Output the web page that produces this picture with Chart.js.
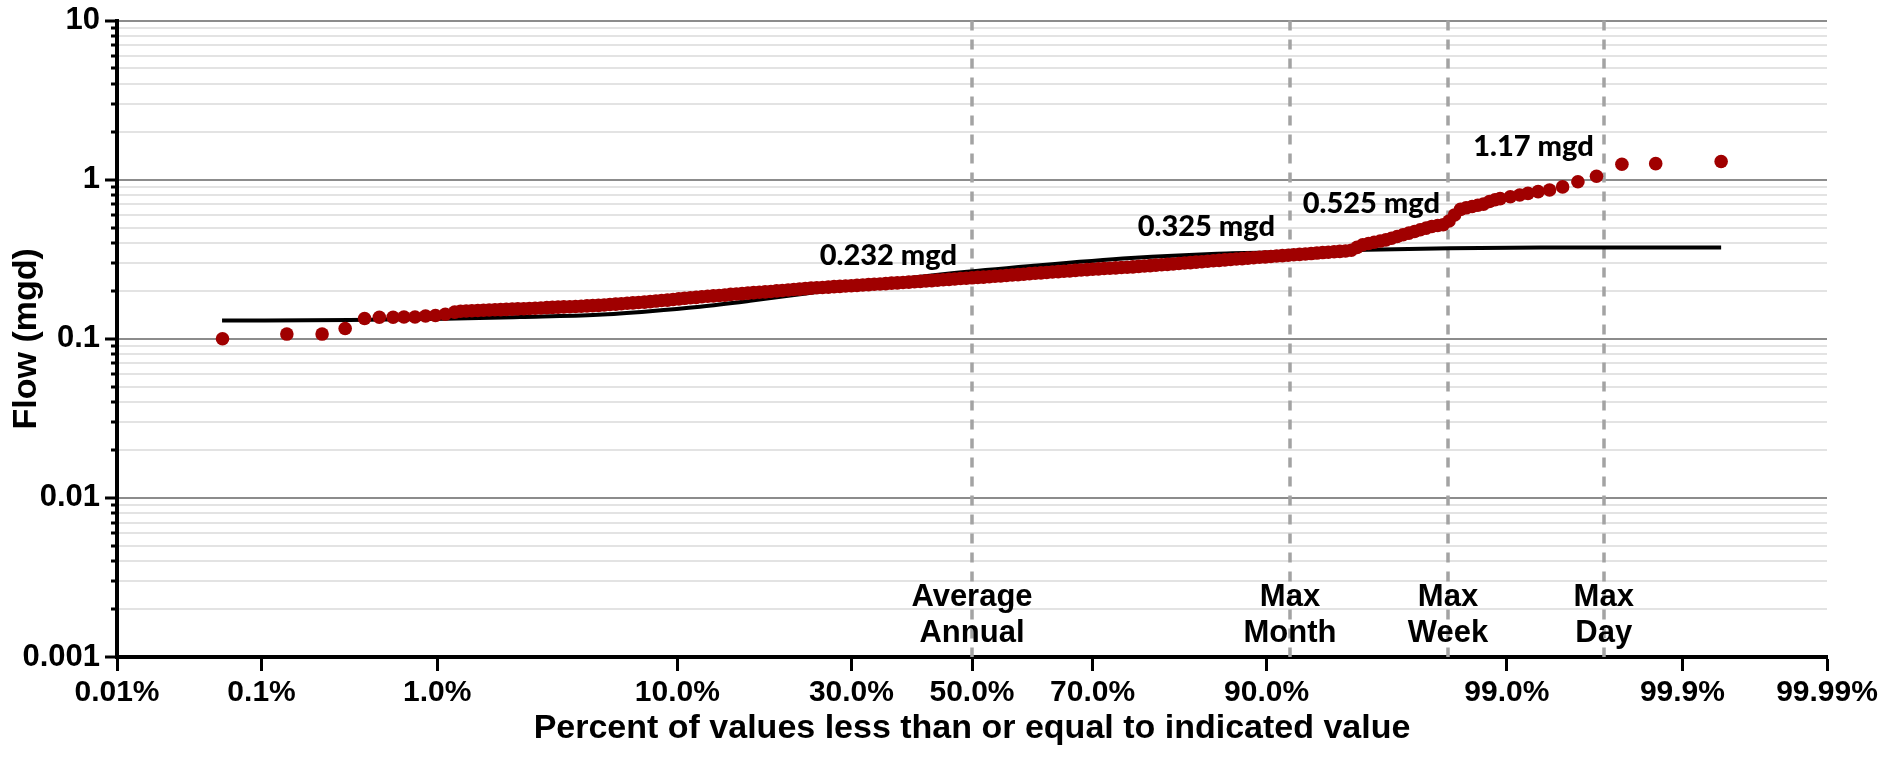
<!DOCTYPE html>
<html>
<head>
<meta charset="utf-8">
<script src="https://cdn.jsdelivr.net/npm/chart.js@4.4.1/dist/chart.umd.min.js"></script>
<style>
  html, body { margin: 0; padding: 0; background: #ffffff; }
  canvas { display: block; }
</style>
</head>
<body>
<canvas id="grafico" width="1883" height="764"></canvas>
<script>
// Ejes: percentiles de la escala de probabilidad y décadas del eje log
const xTickPercents = [0.01, 0.1, 1, 10, 30, 50, 70, 90, 99, 99.9, 99.99];
const xTickLabels = ['0.01%', '0.1%', '1.0%', '10.0%', '30.0%', '50.0%', '70.0%', '90.0%', '99.0%', '99.9%', '99.99%'];
const yTickValues = [0.001, 0.01, 0.1, 1, 10];
const yTickLabels = ['0.001', '0.01', '0.1', '1', '10'];

// Caudales observados (porcentaje acumulado, mgd)
const flowPercent = [
  0.0557, 0.144, 0.235, 0.320, 0.412, 0.497, 0.590, 0.674, 0.770, 0.873, 0.980, 1.098,
  1.222, 1.305, 1.390, 1.48, 1.578, 1.68, 1.786, 1.90, 2.018, 2.14, 2.275, 2.41, 2.56, 2.71, 2.87,
  3.04, 3.22, 3.40, 3.59, 3.79, 4.01, 4.23, 4.46, 4.70, 4.95, 5.21, 5.48, 5.76, 6.06, 6.36, 6.68,
  7.01, 7.35, 7.71, 8.08, 8.46, 8.85, 9.26, 9.68, 10.11, 10.56, 11.03, 11.51, 12.0, 12.51, 13.03,
  13.57, 14.12, 14.69, 15.27, 15.87, 16.48, 17.11, 17.75, 18.41, 19.08, 19.77, 20.47, 21.19, 21.92,
  22.66, 23.42, 24.20, 24.98, 25.78, 26.60, 27.43, 28.27, 29.12, 29.98, 30.85, 31.74, 32.64, 33.54,
  34.46, 35.38, 36.32, 37.26, 38.21, 39.17, 40.13, 41.10, 42.07, 43.05, 44.04, 45.03, 46.02, 47.01,
  48.01, 49.00, 50.00,
  51.00, 51.99, 52.99, 53.98, 54.97, 55.96, 56.95, 57.93, 58.90, 59.87, 60.83, 61.79, 62.74, 63.68,
  64.62, 65.54, 66.46, 67.36, 68.26, 69.15, 70.02, 70.88, 71.73, 72.57, 73.40, 74.22, 75.02, 75.80,
  76.58, 77.34, 78.08, 78.81, 79.53, 80.23, 80.92, 81.59, 82.25, 82.89, 83.52, 84.13, 84.73, 85.31,
  85.88, 86.43, 86.97, 87.49, 88.00, 88.49, 88.97, 89.44, 89.89, 90.32, 90.74, 91.15, 91.54, 91.92,
  92.29, 92.65, 92.99, 93.32, 93.64, 93.94, 94.24, 94.52, 94.79, 95.05, 95.30, 95.54, 95.77, 95.99,
  96.21, 96.41, 96.60, 96.78, 96.96, 97.13, 97.29, 97.44, 97.59, 97.725, 97.86, 97.98, 98.10, 98.21,
  98.32, 98.42, 98.52, 98.61, 98.695, 98.78, 98.855,
  98.92, 99.04, 99.14, 99.22, 99.31, 99.40, 99.49, 99.58, 99.67, 99.765, 99.853, 99.944
];
const flowMgd = [
  0.100, 0.107, 0.107, 0.116, 0.134, 0.1365, 0.1365, 0.137, 0.137, 0.139, 0.140, 0.1425,
  0.147, 0.149, 0.1494, 0.150, 0.1505, 0.151, 0.1515, 0.152, 0.1525, 0.153, 0.1535, 0.154, 0.1545, 0.155, 0.1555,
  0.156, 0.157, 0.1575, 0.158, 0.1585, 0.159, 0.1595, 0.160, 0.161, 0.1615, 0.162, 0.163, 0.164, 0.165, 0.166, 0.167,
  0.168, 0.169, 0.170, 0.171, 0.1725, 0.174, 0.175, 0.1765, 0.178, 0.1795, 0.181, 0.182, 0.1835, 0.185, 0.186,
  0.187, 0.188, 0.190, 0.191, 0.192, 0.1935, 0.195, 0.196, 0.197, 0.198, 0.200, 0.201, 0.2025, 0.204,
  0.205, 0.2065, 0.208, 0.209, 0.210, 0.211, 0.2125, 0.2135, 0.2145, 0.2155, 0.2165, 0.2175, 0.219, 0.220,
  0.221, 0.222, 0.2235, 0.2245, 0.2257, 0.227, 0.228, 0.2295, 0.231, 0.232, 0.2335, 0.235, 0.236, 0.2375,
  0.239, 0.240, 0.2415,
  0.243, 0.244, 0.2455, 0.247, 0.248, 0.250, 0.2515, 0.253, 0.2545, 0.2565, 0.258, 0.2595, 0.261, 0.2625,
  0.264, 0.2655, 0.267, 0.269, 0.2705, 0.272, 0.2735, 0.275, 0.2765, 0.2775, 0.279, 0.2805, 0.2815, 0.283,
  0.285, 0.2865, 0.288, 0.290, 0.292, 0.2935, 0.295, 0.297, 0.299, 0.301, 0.303, 0.305, 0.307, 0.309,
  0.311, 0.313, 0.315, 0.317, 0.319, 0.321, 0.323, 0.325, 0.327, 0.329, 0.331, 0.333, 0.335, 0.337,
  0.339, 0.341, 0.343, 0.3455, 0.348, 0.350, 0.352, 0.354, 0.356, 0.360, 0.375, 0.390, 0.397, 0.404,
  0.411, 0.418, 0.428, 0.439, 0.450, 0.461, 0.472, 0.484, 0.496, 0.508, 0.515, 0.521, 0.550, 0.600,
  0.650, 0.665, 0.678, 0.690, 0.702, 0.728, 0.748,
  0.76, 0.78, 0.80, 0.82, 0.84, 0.86, 0.90, 0.97, 1.05, 1.25, 1.26, 1.30
];

// Curva ajustada (porcentaje, mgd)
const fitPercent = [0.0553, 0.341, 1.095, 2.465, 5.19, 8.06, 11.84, 16.70, 22.72, 29.77, 37.71, 46.53, 60.14, 75.55, 85.68, 92.32, 95.71, 98.12, 99.33, 99.944];
const fitMgd = [0.130, 0.1312, 0.1335, 0.137, 0.1415, 0.149, 0.159, 0.173, 0.190, 0.212, 0.236, 0.258, 0.287, 0.322, 0.3425, 0.352, 0.362, 0.370, 0.374, 0.375];

// Condiciones de diseño
const markerPercents = [50, 91.67, 98.08, 99.7];
const markerNames = [['Average', 'Annual'], ['Max', 'Month'], ['Max', 'Week'], ['Max', 'Day']];
const markerValues = ['0.232 mgd', '0.325 mgd', '0.525 mgd', '1.17 mgd'];

const fuenteEjes = '"Liberation Sans", Arial, sans-serif';
const fuenteValores = 'Lato, "Open Sans", sans-serif';

// Inversa de la normal estándar (Acklam)
function probit(p) {
    const a = [-3.969683028665376e+01, 2.209460984245205e+02, -2.759285104469687e+02, 1.383577518672690e+02, -3.066479806614716e+01, 2.506628277459239e+00];
    const b = [-5.447609879822406e+01, 1.615858368580409e+02, -1.556989798598866e+02, 6.680131188771972e+01, -1.328068155288572e+01];
    const c = [-7.784894002430293e-03, -3.223964580411365e-01, -2.400758277161838e+00, -2.549732539343734e+00, 4.374664141464968e+00, 2.938163982698783e+00];
    const d = [7.784695709041462e-03, 3.224671290700398e-01, 2.445134137142996e+00, 3.754408661907416e+00];
    const pLow = 0.02425;
    if (p < pLow) {
        const q = Math.sqrt(-2 * Math.log(p));
        return (((((c[0] * q + c[1]) * q + c[2]) * q + c[3]) * q + c[4]) * q + c[5]) / ((((d[0] * q + d[1]) * q + d[2]) * q + d[3]) * q + 1);
    }
    if (p <= 1 - pLow) {
        const q = p - 0.5, r = q * q;
        return (((((a[0] * r + a[1]) * r + a[2]) * r + a[3]) * r + a[4]) * r + a[5]) * q / (((((b[0] * r + b[1]) * r + b[2]) * r + b[3]) * r + b[4]) * r + 1);
    }
    const q = Math.sqrt(-2 * Math.log(1 - p));
    return -(((((c[0] * q + c[1]) * q + c[2]) * q + c[3]) * q + c[4]) * q + c[5]) / ((((d[0] * q + d[1]) * q + d[2]) * q + d[3]) * q + 1);
}

function esDecada(v) {
    const e = Math.log10(v);
    return Math.abs(e - Math.round(e)) < 1e-6;
}

function aPuntos(porcentajes, valores) {
    return porcentajes.map((p, i) => ({ x: probit(p / 100), y: valores[i] }));
}

// Líneas verticales punteadas y rótulos
const marcadores = {
    id: 'marcadores',
    beforeDatasetsDraw(chart, args, opts) {
        const { ctx, chartArea, scales: { x } } = chart;
        ctx.save();
        ctx.strokeStyle = opts.color;
        ctx.lineWidth = opts.width;
        ctx.setLineDash(opts.dash);
        markerPercents.forEach(p => {
            const px = Math.round(x.getPixelForValue(probit(p / 100)));
            ctx.beginPath();
            ctx.moveTo(px, chartArea.top);
            ctx.lineTo(px, chartArea.bottom);
            ctx.stroke();
        });
        ctx.setLineDash([]);
        ctx.fillStyle = '#000';
        ctx.font = 'bold 31px ' + fuenteEjes;
        ctx.textAlign = 'center';
        ctx.textBaseline = 'middle';
        markerPercents.forEach((p, i) => {
            const px = x.getPixelForValue(probit(p / 100));
            ctx.fillText(markerNames[i][0], px, chartArea.bottom - opts.nameOffsets[0]);
            ctx.fillText(markerNames[i][1], px, chartArea.bottom - opts.nameOffsets[1]);
        });
        ctx.restore();
    },
    afterDatasetsDraw(chart, args, opts) {
        const { ctx, scales: { x, y } } = chart;
        ctx.save();
        ctx.fillStyle = '#000';
        ctx.font = '900 29px ' + fuenteValores;
        ctx.textAlign = 'right';
        ctx.textBaseline = 'alphabetic';
        markerPercents.forEach((p, i) => {
            const px = x.getPixelForValue(probit(p / 100)) + opts.valueDx[i];
            const py = y.getPixelForValue(opts.valueBase[i]);
            ctx.fillText(markerValues[i], px, py);
        });
        ctx.restore();
    }
};

const ctx = document.getElementById('grafico').getContext('2d');
new Chart(ctx, {
    type: 'scatter',
    data: {
        datasets: [
            {
                type: 'scatter',
                label: 'Flow',
                data: aPuntos(flowPercent, flowMgd),
                pointRadius: 6.8,
                backgroundColor: '#a00000',
                borderColor: '#a00000',
                borderWidth: 0,
                order: 0
            },
            {
                type: 'line',
                label: 'Fit',
                data: aPuntos(fitPercent, fitMgd),
                borderColor: '#000000',
                borderWidth: 4,
                pointRadius: 0,
                fill: false,
                cubicInterpolationMode: 'monotone',
                order: 1
            }
        ]
    },
    options: {
        responsive: false,
        animation: false,
        events: [],
        layout: { padding: { left: 0, right: 56, top: 16, bottom: 0 } },
        plugins: {
            legend: { display: false },
            tooltip: { enabled: false },
            marcadores: {
                color: '#a3a3a3',
                width: 3.5,
                dash: [10, 9],
                nameOffsets: [60, 24],
                valueDx: [-15, -15, -8, -10],
                valueBase: [0.289, 0.4446, 0.618, 1.401]
            }
        },
        scales: {
            x: {
                type: 'linear',
                min: probit(xTickPercents[0] / 100),
                max: probit(xTickPercents[xTickPercents.length - 1] / 100),
                afterBuildTicks: scale => {
                    scale.ticks = xTickPercents.map(p => ({ value: probit(p / 100) }));
                },
                afterFit: scale => { scale.height = 107; },
                ticks: {
                    autoSkip: false,
                    maxRotation: 0,
                    padding: 4,
                    color: '#000',
                    font: { family: fuenteEjes, size: 30, weight: 'bold', lineHeight: 1.2 },
                    callback: (value, index) => xTickLabels[index]
                },
                grid: { drawOnChartArea: false, drawTicks: true, tickLength: 14, tickWidth: 3, tickColor: '#000' },
                border: { display: true, color: '#000', width: 4 },
                title: {
                    display: true,
                    text: 'Percent of values less than or equal to indicated value',
                    color: '#000',
                    font: { family: fuenteEjes, size: 34, weight: 'bold', lineHeight: 1.2 },
                    padding: { top: 0, bottom: 14.6 }
                }
            },
            y: {
                type: 'logarithmic',
                min: 0.001,
                max: 10,
                afterBuildTicks: scale => {
                    const marcas = [];
                    yTickValues.forEach(d => {
                        for (let m = 1; m < 10; m++) {
                            if (d * m <= 10 + 1e-9) marcas.push({ value: d * m });
                        }
                    });
                    scale.ticks = marcas;
                },
                afterFit: scale => { scale.width = 117; },
                ticks: {
                    autoSkip: false,
                    padding: 5,
                    color: '#000',
                    font: { family: fuenteEjes, size: 31, weight: 'bold', lineHeight: 1 },
                    callback: value => {
                        const i = yTickValues.findIndex(t => Math.abs(t - value) / t < 1e-6);
                        return i >= 0 ? yTickLabels[i] : '';
                    }
                },
                grid: {
                    color: c => (c.tick && esDecada(c.tick.value)) ? '#8c8c8c' : '#e3e3e3',
                    lineWidth: 2,
                    tickLength: 12,
                    tickWidth: 3,
                    tickColor: '#000',
                    tickBorderDash: c => (c.tick && esDecada(c.tick.value)) ? [] : [0, 6, 4, 40]
                },
                border: { display: true, color: '#000', width: 4 },
                title: {
                    display: true,
                    text: 'Flow (mgd)',
                    color: '#000',
                    font: { family: fuenteEjes, size: 34, weight: 'bold', lineHeight: 1.2 },
                    padding: { top: 6.6, bottom: 0 }
                }
            }
        }
    },
    plugins: [marcadores]
});
</script>
</body>
</html>
